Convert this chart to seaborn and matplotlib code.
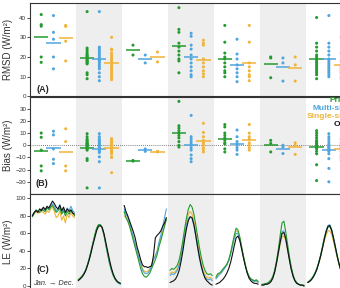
import numpy as np
import pandas as pd
import seaborn as sns
import matplotlib.pyplot as plt

# Gruppi (colonne) e modelli
groups = ["1", "2", "3", "4", "5", "6", "7"]
models = ["Prior", "Multi-site", "Single-site"]
palette = {"Prior": "#239b2f", "Multi-site": "#4fa6de", "Single-site": "#f0b43a", "Obs": "#111111"}
shaded = [1, 3, 5]

# (A) RMSD per sito
rmsd_prior = [
    [41.5, 36.4, 35.6, 20, 17.3],
    [43, 24.5, 23.5, 22.5, 21.5, 21, 20.5, 20, 19.5, 19, 18.5, 18, 17.5, 17, 16.5, 12, 11, 9],
    [26, 21],
    [45, 34, 32.5, 27, 25, 23, 21, 19, 18, 12],
    [36, 27.5, 22, 20, 19, 17, 15, 13, 12, 10],
    [20, 19.5, 9.5],
    [40, 27, 25, 23, 21, 20, 19, 18, 17, 16, 15, 14, 13, 12, 11, 9],
]
rmsd_multi = [
    [41, 32.5, 29, 20, 14],
    [43, 25, 24, 23, 22, 21, 20, 19, 18.5, 18, 17, 16, 15, 14, 12, 10, 8],
    [21, 17],
    [32, 30.5, 26, 24, 21, 19, 17, 15, 13, 11, 10],
    [29, 21.5, 19, 16, 14, 12, 10, 7.5],
    [19.5, 17, 7.8],
    [41, 27, 25, 23, 21, 19, 18, 17, 16, 15, 14, 13, 12, 11, 10],
]
rmsd_single = [
    [36, 35.5, 28, 18],
    [30, 24, 23.5, 22, 21, 20, 19, 18, 17, 16, 15, 14.5, 14, 13, 12, 11, 10, 9, 8.5],
    [22.5, 17.5],
    [28.5, 27, 26, 19, 17, 15, 13, 11.5, 10],
    [36, 27.5, 17, 15, 13, 11, 10, 8],
    [20, 16, 7.8],
    [30, 22, 18, 16, 15, 14, 13, 12, 10, 9],
]

# (B) Bias per sito
bias_prior = [
    [10, 6.5, -4, -17, -21],
    [9.5, 7, 5, 4, 3, 2, 1.5, 1, 0.5, 0, -0.5, -1, -2, -3, -4, -11, -12.5, -35],
    [-12.5, -13],
    [36, 16, 14, 12, 10, 8, 6, 3, 0, -1.5],
    [17, 15, 10, 8, 6, 4, 2, 1, -3, -5.5],
    [4, 1.5, -5.5],
    [12, 10, 8, 6, 4, 3, 2, 1, 0, -1, -2, -3, -5, -7, -16, -29],
]
bias_multi = [
    [11.5, 8.5, -3, -11.5, -15],
    [9.5, 7, 5, 4, 3, 2, 1, 0, -1, -2, -3, -4, -5, -6, -9.5, -13.5, -35],
    [-3, -5],
    [24.5, 7, 5, 3, 1, 0, -2, -4, -8, -11, -13.5],
    [12.5, 7, 3, 1, 0, -2, -4, -7.5],
    [0, -1.5, -6.8],
    [9.5, 7, 5, 3, 1, 0, -1, -2, -3, -4, -5, -7, -11, -19, -30],
]
bias_single = [
    [13.5, 3, -17, -21],
    [5.5, 4.5, 4, 3, 2, 1, 0.5, 0, -0.5, -1, -2, -3, -4, -5, -6, -7, -9.5, -10, -22.5],
    [-5, -5.5],
    [18, 10.5, 7, 4, 2, 0, -2, -3.5, -5.5],
    [17, 10, 7, 5, 2, 0, -2, -4],
    [2, 0, -7.5],
    [5, 2, 0, -1, -2, -3, -5, -8, -10, -12],
]

# (C) ciclo stagionale LE (24 passi Jan -> Dec)
le_obs = [
    [80, 84, 86, 84, 88, 86, 90, 87, 91, 89, 93, 97, 94, 90, 88, 92, 86, 90, 84, 88, 85, 87, 83, 82],
    [6, 8, 10, 13, 17, 23, 30, 38, 47, 55, 63, 68, 69, 67, 60, 50, 40, 30, 21, 14, 9, 6, 4, 3],
    [92, 85, 80, 74, 68, 62, 55, 45, 38, 30, 24, 22, 22, 21, 22, 23, 35, 55, 58, 60, 63, 68, 72, 78],
    [4, 5, 6, 8, 12, 18, 28, 40, 54, 66, 75, 79, 78, 70, 58, 45, 33, 23, 15, 9, 6, 4, 2, 1],
    [2, 3, 4, 6, 8, 11, 15, 20, 27, 36, 46, 55, 57, 52, 42, 32, 23, 15, 9, 6, 4, 3, 3, 2],
    [1, 1, 2, 2, 3, 5, 9, 16, 26, 38, 50, 60, 61, 54, 42, 30, 19, 11, 6, 3, 2, 1, 1, 0],
    [4, 5, 7, 10, 14, 19, 26, 34, 43, 53, 62, 68, 69, 64, 55, 45, 35, 26, 18, 12, 8, 6, 5, 4],
]
le_prior = [
    [79, 83, 87, 85, 84, 88, 86, 85, 89, 87, 90, 92, 88, 84, 86, 89, 82, 86, 80, 85, 82, 86, 84, 80],
    [7, 9, 11, 14, 18, 24, 31, 40, 49, 58, 66, 70, 70, 67, 59, 48, 37, 27, 19, 13, 8, 5, 4, 3],
    [85, 78, 74, 68, 60, 52, 44, 36, 28, 20, 14, 11, 10, 12, 15, 20, 25, 30, 36, 45, 52, 60, 68, 76],
    [18, 20, 19, 21, 24, 30, 40, 52, 66, 78, 88, 93, 90, 82, 70, 57, 44, 33, 24, 18, 14, 13, 14, 12],
    [10, 14, 15, 17, 20, 22, 25, 30, 38, 48, 58, 66, 64, 56, 45, 34, 24, 16, 11, 8, 7, 6, 7, 5],
    [2, 2, 3, 3, 5, 7, 11, 18, 29, 42, 58, 72, 74, 62, 48, 34, 22, 13, 7, 4, 2, 1, 1, 1],
    [4, 6, 8, 11, 15, 20, 27, 35, 44, 54, 62, 67, 68, 63, 54, 44, 34, 25, 18, 12, 8, 6, 5, 4],
]
le_multi = [
    [81, 84, 86, 86, 85, 87, 88, 86, 90, 88, 91, 94, 91, 86, 88, 93, 84, 88, 83, 89, 86, 91, 86, 84],
    [7, 8, 11, 14, 18, 24, 32, 40, 49, 57, 65, 69, 70, 66, 58, 47, 36, 26, 18, 12, 8, 5, 3, 2],
    [88, 82, 78, 72, 64, 56, 48, 40, 32, 25, 18, 15, 14, 15, 18, 24, 30, 34, 40, 50, 58, 68, 78, 88],
    [12, 14, 13, 15, 18, 24, 33, 45, 58, 70, 77, 79, 77, 69, 57, 44, 32, 22, 15, 10, 8, 7, 8, 6],
    [8, 11, 13, 15, 18, 21, 24, 29, 36, 45, 54, 60, 60, 53, 43, 33, 24, 16, 11, 8, 6, 5, 6, 4],
    [1, 2, 2, 3, 4, 6, 10, 17, 27, 39, 52, 62, 63, 55, 43, 31, 20, 12, 6, 3, 2, 1, 1, 0],
    [4, 6, 8, 11, 15, 20, 27, 35, 45, 55, 63, 69, 70, 65, 56, 46, 35, 26, 18, 12, 8, 6, 5, 4],
]
le_single = [
    [80, 82, 85, 83, 84, 85, 84, 82, 86, 84, 88, 90, 85, 78, 80, 86, 75, 80, 72, 82, 78, 84, 80, 78],
    [7, 9, 11, 14, 18, 24, 31, 40, 49, 58, 65, 69, 70, 66, 58, 47, 37, 27, 19, 12, 8, 5, 3, 3],
    [80, 78, 74, 68, 62, 55, 47, 40, 33, 26, 20, 17, 16, 17, 20, 25, 31, 35, 40, 48, 55, 62, 70, 78],
    [14, 16, 15, 17, 20, 26, 36, 48, 61, 73, 82, 85, 82, 74, 62, 49, 37, 26, 18, 13, 10, 9, 10, 8],
    [9, 13, 14, 16, 19, 22, 25, 30, 37, 47, 56, 63, 62, 55, 44, 34, 24, 16, 11, 8, 7, 6, 7, 5],
    [1, 2, 2, 3, 4, 6, 10, 16, 26, 37, 48, 56, 57, 52, 41, 30, 20, 12, 6, 3, 2, 1, 1, 0],
    [4, 6, 8, 11, 15, 20, 26, 33, 42, 51, 58, 63, 63, 59, 51, 42, 33, 25, 18, 12, 8, 6, 5, 4],
]


def long_table(series):
    rows = []
    for model, per_group in series.items():
        for g, vals in zip(groups, per_group):
            for v in vals:
                rows.append({"group": g, "model": model, "value": v})
    return pd.DataFrame(rows)


dfA = long_table({"Prior": rmsd_prior, "Multi-site": rmsd_multi, "Single-site": rmsd_single})
dfB = long_table({"Prior": bias_prior, "Multi-site": bias_multi, "Single-site": bias_single})

rows = []
for name, per_group in [("Obs", le_obs), ("Prior", le_prior), ("Multi-site", le_multi), ("Single-site", le_single)]:
    for gi, vals in enumerate(per_group):
        n = len(vals)
        for k, v in enumerate(vals):
            rows.append({"group": gi, "series": name, "x": gi - 0.46 + 0.92 * k / (n - 1), "le": v})
dfC = pd.DataFrame(rows)

sns.set_theme(style="ticks")
plt.rcParams["font.family"] = ["Liberation Sans", "DejaVu Sans"]

fig = plt.figure(figsize=(3.4, 2.88), dpi=100)
left, width = 0.0897, 0.945
axA = fig.add_axes([left, 0.665, width, 0.3235])
axB = fig.add_axes([left, 0.3264, width, 0.3385])
axC = fig.add_axes([left, -0.0052, width, 0.3316])


def strip_panel(ax, df):
    for gi in shaded:
        ax.axvspan(gi - 0.5, gi + 0.5, color="#eeeeee", lw=0, zorder=0)
    sns.stripplot(data=df, x="group", y="value", hue="model", order=groups, hue_order=models,
                  palette=palette, dodge=True, jitter=False, size=2.2, linewidth=0,
                  legend=False, ax=ax, zorder=3)
    means = df.groupby(["group", "model"])["value"].mean()
    for gi, g in enumerate(groups):
        for mi, m in enumerate(models):
            xc = gi + (mi - 1) * 0.8 / 3
            ax.hlines(means[g, m], xc - 0.155, xc + 0.155, color=palette[m], lw=1.1, zorder=4)


strip_panel(axA, dfA)
strip_panel(axB, dfB)
axB.axhline(0, color="#555555", lw=0.6, ls=(0, (1, 1.5)), zorder=1)

for gi in shaded:
    axC.axvspan(gi - 0.5, gi + 0.5, color="#eeeeee", lw=0, zorder=0)
sns.lineplot(data=dfC, x="x", y="le", hue="series", hue_order=["Single-site", "Multi-site", "Prior", "Obs"],
             units="group", estimator=None, sort=False, palette=palette, lw=0.8, legend=False, ax=axC)

axA.set_ylim(0, 47.2)
axA.set_yticks([0, 10, 20, 30, 40])
axB.set_ylim(-40, 40)
axB.set_yticks([-30, -20, -10, 0, 10, 20, 30])
axC.set_ylim(-4, 105)
axC.set_yticks([0, 20, 40, 60, 80, 100])

for ax, lab in [(axA, "RMSD (W/m²)"), (axB, "Bias (W/m²)"), (axC, "LE (W/m²)")]:
    ax.set_xlim(-0.5, 6.5)
    ax.set_xticks([])
    ax.set_xlabel("")
    ax.set_ylabel(lab, fontsize=7, color="#333333")
    ax.yaxis.set_label_coords(-0.054, 0.5)
    ax.tick_params(axis="y", labelsize=4.5, length=2, width=0.6, pad=1, colors="#333333")
    for s in ax.spines.values():
        s.set_color("#333333")
        s.set_linewidth(0.8)

axA.text(0.019, 0.08, "(A)", transform=axA.transAxes, fontsize=6.5, fontweight="bold", va="center")
axB.text(0.015, 0.103, "(B)", transform=axB.transAxes, fontsize=6.5, fontweight="bold", va="center")
axC.text(0.019, 0.209, "(C)", transform=axC.transAxes, fontsize=6.5, fontweight="bold", va="center")
axC.text(0.007, 0.058, "Jan. → Dec.", transform=axC.transAxes, fontsize=5.3, style="italic",
         color="#333333", va="center")

# Legenda testuale (tagliata dal bordo come nell'originale)
for y, name in zip([0.954, 0.872, 0.792, 0.713], ["Prior", "Multi-site", "Single-site", "Obs"]):
    axB.text(0.993, y, name, transform=axB.transAxes, ha="right", va="center",
             fontsize=6, fontweight="bold", color=palette[name])

fig.savefig("out.png", dpi=100)
